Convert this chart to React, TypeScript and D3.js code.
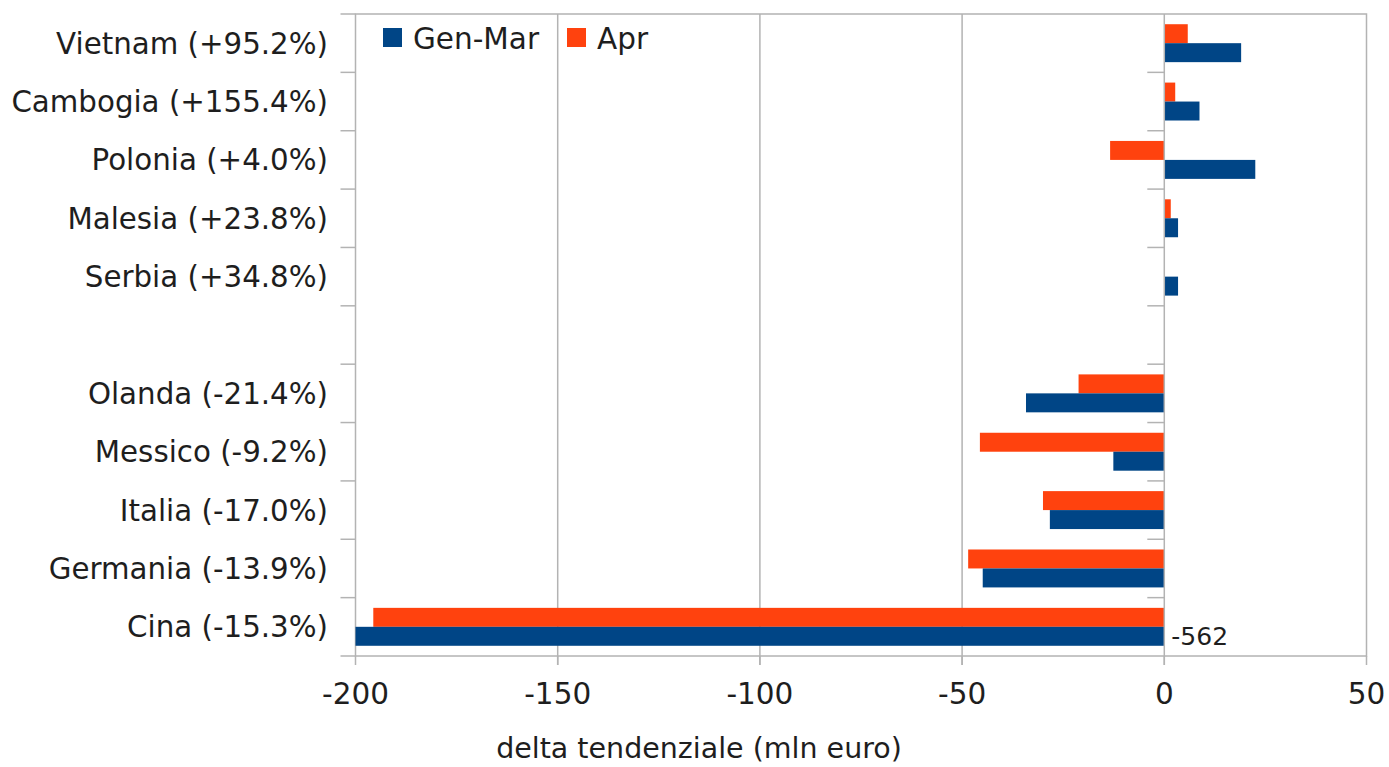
import React, { useEffect, useRef } from 'react';
import * as d3 from 'd3';

// categories top to bottom; the empty string is the blank separator row
const categories = [
  'Vietnam (+95.2%)',
  'Cambogia (+155.4%)',
  'Polonia (+4.0%)',
  'Malesia (+23.8%)',
  'Serbia (+34.8%)',
  '',
  'Olanda (-21.4%)',
  'Messico (-9.2%)',
  'Italia (-17.0%)',
  'Germania (-13.9%)',
  'Cina (-15.3%)',
];

const genMar = [19.0, 8.7, 22.5, 3.4, 3.4, null, -34.2, -12.6, -28.3, -44.9, -562];
const apr = [5.8, 2.7, -13.4, 1.6, 0, null, -21.2, -45.6, -30.0, -48.5, -195.6];

const xTicks = [-200, -150, -100, -50, 0, 50];
const seriesNames = ['Gen-Mar', 'Apr'];
const seriesColors = ['#004586', '#ff420e'];

const W = 1389;
const H = 767;
const FONT = 'DejaVu Sans, sans-serif';
const TEXT = '#1e1e1e';
const GRID = '#b3b3b3';

const App: React.FC = () => {
  const svgRef = useRef<SVGSVGElement>(null);

  useEffect(() => {
    document.body.style.margin = '0';
    if (!svgRef.current) return;
    const svg = d3.select(svgRef.current);
    svg.selectAll('*').remove();

    const left = 355.5, right = 1366.5, top = 14, bottom = 656;

    const x = d3.scaleLinear().domain([-200, 50]).range([left, right]);
    const xc = x.copy().clamp(true);
    const y = d3.scaleBand<number>()
      .domain(categories.map((_, i) => i))
      .range([top, bottom])
      .paddingInner(0.35)
      .paddingOuter(0.175);
    // Apr above, Gen-Mar below inside each group
    const inner = d3.scaleBand<string>().domain(['Apr', 'Gen-Mar']).range([0, y.bandwidth()]);

    const step = (bottom - top) / categories.length;

    // gridlines
    xTicks.filter(t => t > -200 && t < 50 && t !== 0).forEach(t => {
      svg.append('line')
        .attr('x1', x(t)).attr('x2', x(t))
        .attr('y1', top).attr('y2', bottom + 9)
        .attr('stroke', GRID).attr('stroke-width', 1.5);
    });

    // frame
    svg.append('rect')
      .attr('x', left).attr('y', top)
      .attr('width', right - left).attr('height', bottom - top)
      .attr('fill', 'none').attr('stroke', GRID).attr('stroke-width', 1.5);

    // bars
    const rows = categories.map((c, i) => ({ i, c, gm: genMar[i], ap: apr[i] }));
    rows.forEach(r => {
      const y0 = y(r.i)!;
      const pairs: [string, number | null, string][] = [
        ['Apr', r.ap, seriesColors[1]],
        ['Gen-Mar', r.gm, seriesColors[0]],
      ];
      pairs.forEach(([name, v, col]) => {
        if (v === null || v === 0) return;
        const x0 = xc(Math.min(0, v));
        const x1 = xc(Math.max(0, v));
        svg.append('rect')
          .attr('x', x0).attr('y', y0 + inner(name)!)
          .attr('width', x1 - x0).attr('height', inner.bandwidth())
          .attr('fill', col);
      });
    });

    // zero axis with ticks
    svg.append('line')
      .attr('x1', x(0)).attr('x2', x(0))
      .attr('y1', top).attr('y2', bottom + 9)
      .attr('stroke', GRID).attr('stroke-width', 1.5);
    for (let k = 1; k < categories.length; k++) {
      const ty = top + k * step;
      svg.append('line')
        .attr('x1', x(0) - 17).attr('x2', x(0))
        .attr('y1', ty).attr('y2', ty)
        .attr('stroke', GRID).attr('stroke-width', 1.5);
    }
    // left axis ticks
    for (let k = 0; k <= categories.length; k++) {
      const ty = top + k * step;
      svg.append('line')
        .attr('x1', left - 15).attr('x2', left)
        .attr('y1', ty).attr('y2', ty)
        .attr('stroke', GRID).attr('stroke-width', 1.5);
    }
    // bottom ticks
    xTicks.forEach(t => {
      svg.append('line')
        .attr('x1', x(t)).attr('x2', x(t))
        .attr('y1', bottom).attr('y2', bottom + 9)
        .attr('stroke', GRID).attr('stroke-width', 1.5);
      svg.append('text')
        .attr('x', x(t)).attr('y', 704)
        .attr('text-anchor', 'middle')
        .attr('font-family', FONT).attr('font-size', 29.5)
        .attr('fill', TEXT)
        .text(String(t));
    });

    // category labels
    rows.forEach(r => {
      if (!r.c) return;
      svg.append('text')
        .attr('x', 328).attr('y', y(r.i)! + y.bandwidth() / 2)
        .attr('dy', '0.36em')
        .attr('text-anchor', 'end')
        .attr('font-family', FONT).attr('font-size', 29.3)
        .attr('fill', TEXT)
        .text(r.c);
    });

    // out-of-range value label for Cina
    const last = rows[rows.length - 1];
    svg.append('text')
      .attr('x', x(0) + 7)
      .attr('y', y(last.i)! + inner('Gen-Mar')! + inner.bandwidth() / 2)
      .attr('dy', '0.36em')
      .attr('font-family', FONT).attr('font-size', 25)
      .attr('fill', TEXT)
      .text(String(last.gm));

    // legend
    const legendX = [383, 567];
    seriesNames.forEach((s, i) => {
      svg.append('rect')
        .attr('x', legendX[i]).attr('y', 28)
        .attr('width', 19).attr('height', 19)
        .attr('fill', seriesColors[i]);
      svg.append('text')
        .attr('x', legendX[i] + 30).attr('y', 38.5)
        .attr('dy', '0.36em')
        .attr('font-family', FONT).attr('font-size', 29.5)
        .attr('fill', TEXT)
        .text(s);
    });

    // axis title
    svg.append('text')
      .attr('x', 699).attr('y', 758)
      .attr('text-anchor', 'middle')
      .attr('font-family', FONT).attr('font-size', 28.5)
      .attr('fill', TEXT)
      .text('delta tendenziale (mln euro)');
  }, []);

  return (
    <svg ref={svgRef} width={W} height={H} style={{ display: 'block', background: '#fff' }} />
  );
};

export default App;
